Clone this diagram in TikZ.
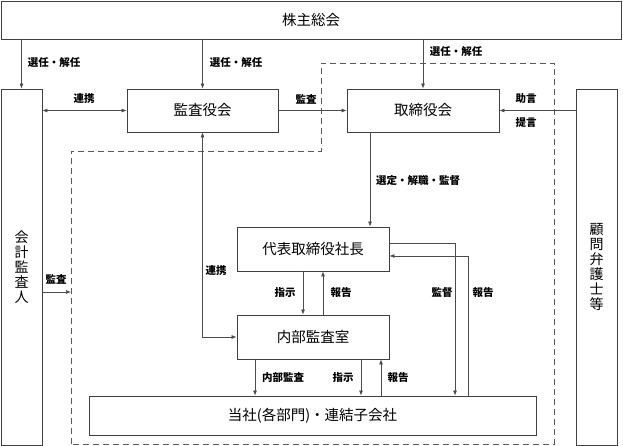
\documentclass[tikz,border=0pt]{standalone}
\usepackage{fontspec}
\setmainfont{Noto Sans CJK JP}
\usepackage{tikz}
\usetikzlibrary{arrows.meta,positioning}

\tikzset{
	box/.style={draw=black!75, line width=0.8pt, rectangle, inner sep=0pt, font=\fontsize{14.5}{16}\selectfont},
	lbl/.style={inner sep=0pt, font=\fontsize{10.5}{12}\selectfont\bfseries},
	conn/.style={draw=black!70, line width=0.7pt},
	arr/.style={conn, -{Latex[length=5pt,width=4pt]}},
	darr/.style={conn, {Latex[length=5pt,width=4pt]}-{Latex[length=5pt,width=4pt]}},
}

\begin{document}
\begin{tikzpicture}[x=1pt,y=-1pt]
	\useasboundingbox (0,0) rectangle (623,445);

	% gruppe (gestrichelt)
	\draw[black!65, line width=0.7pt, dash pattern=on 6pt off 4pt] (71,444) -- (71,151) -- (321,151) -- (321,63) -- (554,63) -- (554,444) -- cycle;

	\node[box, minimum width=620pt, minimum height=38pt] (soukai) at (311,20) {株主総会};

	\node[box, minimum width=41pt, minimum height=356pt, align=center, font=\fontsize{14}{15}\selectfont] (kaikei) at (21.5,267) {会\\計\\監\\査\\人};
	\node[box, minimum width=41pt, minimum height=356pt, align=center, font=\fontsize{14}{15}\selectfont] (komon) at (596.5,267) {顧\\問\\弁\\護\\士\\等};

	\node[box, minimum width=151pt, minimum height=43pt] (kansayaku) at (202.5,110.5) {監査役会};
	\node[box, minimum width=152pt, minimum height=43pt] (torishimari) at (423,110.5) {取締役会};

	\node[box, minimum width=152pt, minimum height=44pt] (shacho) at (313,249) {代表取締役社長};
	\node[box, minimum width=152pt, minimum height=44pt] (naibu) at (313,337) {内部監査室};
	\node[box, minimum width=447pt, minimum height=39pt] (tousha) at (312.5,415.5) {当社(各部門)・連結子会社};

	% senin / kainin
	\draw[arr] (soukai.south -| kaikei) -- (kaikei.north);
	\draw[arr] (soukai.south -| kansayaku) -- (kansayaku.north);
	\draw[arr] (soukai.south -| torishimari) -- (torishimari.north);
	\node[lbl] (sen1) at (54,63) {選任・解任};
	\node[lbl] (sen2) at (236,63) {選任・解任};
	\node[lbl] (sen3) at (456,52) {選任・解任};

	\draw[darr] (kaikei.east |- kansayaku) -- (kansayaku.west);
	\node[lbl] (renkei1) at (84,99) {連携};

	\draw[arr] (kansayaku.east) -- (torishimari.west);
	\node[lbl] (kansa1) at (306,99) {監査};

	\draw[arr] (komon.west |- torishimari) -- (torishimari.east);
	\node[lbl] (jogen) at (526,99) {助言};
	\node[lbl] (teigen) at (526,123) {提言};

	\draw[arr] ([xshift=-53pt]torishimari.south) -- ([xshift=-53pt]torishimari.south |- shacho.north);
	\node[lbl] (sentei) at (418,181) {選定・解職・監督};

	\draw[darr] (kansayaku.south) -- (kansayaku.south |- naibu.west) -- (naibu.west);
	\node[lbl] (renkei2) at (216,271) {連携};

	\coordinate (kansaend) at (71,292);
	\draw[arr] (kaikei.east |- kansaend) -- (kansaend);
	\node[lbl] (kansa2) at (56,279) {監査};

	% shacho <-> naibu
	\draw[arr] ([xshift=-10pt]shacho.south) -- ([xshift=-10pt]naibu.north);
	\draw[arr] ([xshift=10pt]naibu.north) -- ([xshift=10pt]shacho.south);
	\node[lbl] (shiji1) at (285,293) {指示};
	\node[lbl] (hokoku1) at (341,293) {報告};

	% naibu <-> tousha
	\draw[arr] ([xshift=-58pt]naibu.south) -- ([xshift=-58pt]naibu.south |- tousha.north);
	\draw[arr] ([xshift=48pt]naibu.south) -- ([xshift=48pt]naibu.south |- tousha.north);
	\draw[arr] ([xshift=68pt]naibu.south |- tousha.north) -- ([xshift=68pt]naibu.south);
	\node[lbl] (naibukansa) at (283,378) {内部監査};
	\node[lbl] (shiji2) at (343,378) {指示};
	\node[lbl] (hokoku2) at (398,378) {報告};

	% shacho <-> tousha
	\draw[arr] ([yshift=6pt]shacho.east) -| ([xshift=142.5pt]tousha.north);
	\draw[arr] ([xshift=155.5pt]tousha.north) |- ([yshift=-7pt]shacho.east);
	\node[lbl] (kantoku) at (442,293) {監督};
	\node[lbl] (hokoku3) at (483,293) {報告};
\end{tikzpicture}
\end{document}
